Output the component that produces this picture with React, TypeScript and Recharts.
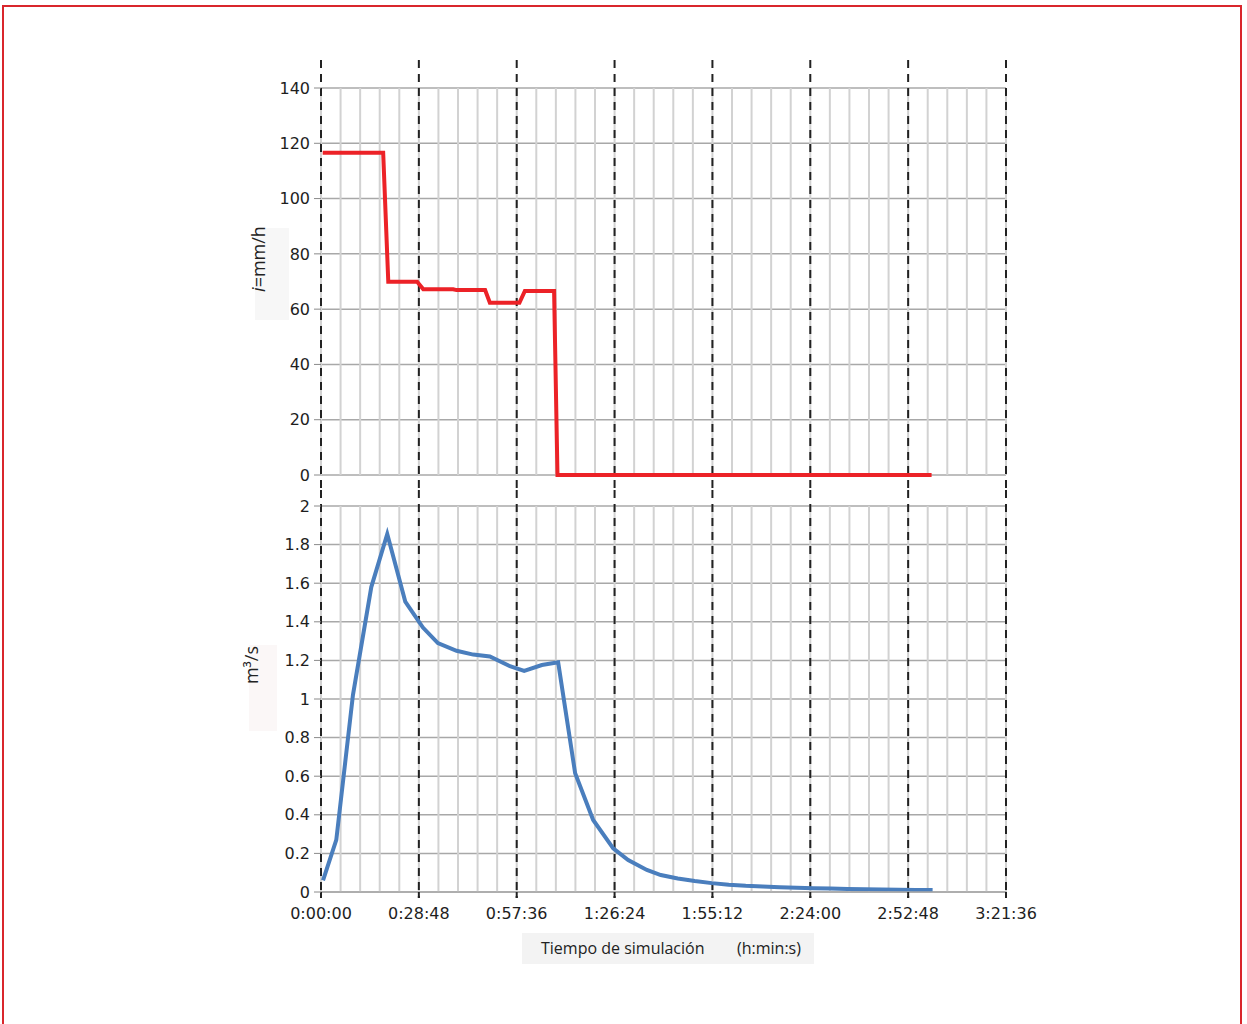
import { LineChart, Line, XAxis, YAxis, CartesianGrid, ReferenceLine } from 'recharts';

// time in minutes
const rainTimes = [0.5, 18.3, 19.8, 28.3, 30.1, 38.9, 39.9, 48.3, 49.7, 58.4, 60, 68.6, 69.6, 179.7];
const rainValues = [116.6, 116.6, 69.9, 69.9, 67.2, 67.2, 66.9, 66.9, 62.3, 62.3, 66.6, 66.6, 0, 0];

const flowTimes = [
  0.6, 4.5, 9.4, 14.8, 19.5, 24.8, 30, 34.4, 39.9, 44.8, 49.7, 55.6, 59.8, 65, 69.8, 74.8, 80.1, 86,
  90.4, 95.9, 100, 105, 110, 115, 120, 125, 130, 135, 140, 145, 150, 155, 160, 165, 170, 175, 180,
];
const flowValues = [
  0.06, 0.27, 1.02, 1.58, 1.855, 1.505, 1.37, 1.29, 1.25, 1.23, 1.22, 1.17, 1.146, 1.176, 1.19, 0.615,
  0.373, 0.226, 0.166, 0.114, 0.088, 0.07, 0.057, 0.046, 0.038, 0.032, 0.028, 0.025, 0.022, 0.02, 0.018,
  0.016, 0.014, 0.013, 0.012, 0.011, 0.01,
];

const majorTicks = [0, 28.8, 57.6, 86.4, 115.2, 144, 172.8, 201.6];
const minorTicks = Array.from({ length: 36 }, (_, i) => +(i * 5.76).toFixed(2));
const rainTicks = [0, 20, 40, 60, 80, 100, 120, 140];
const flowTicks = [0, 0.2, 0.4, 0.6, 0.8, 1, 1.2, 1.4, 1.6, 1.8, 2];

const rainData = rainTimes.map((t, i) => ({ t, v: rainValues[i] }));
const flowData = flowTimes.map((t, i) => ({ t, v: flowValues[i] }));

const fmtTime = (m: number) => {
  const s = Math.round(m * 60);
  const h = Math.floor(s / 3600);
  const mm = Math.floor((s % 3600) / 60);
  const ss = s % 60;
  return `${h}:${String(mm).padStart(2, '0')}:${String(ss).padStart(2, '0')}`;
};

const tickStyle = { fontSize: 16, fill: '#1e1e1e', fontFamily: 'DejaVu Sans' };

const dashedShape = (top: number, bottom: number) => (p: any) => (
  <line x1={p.x1} x2={p.x2} y1={top} y2={bottom} stroke="#222" strokeWidth={2} strokeDasharray="8 6" />
);

const minorLines = () =>
  minorTicks.map((m) => (
    <ReferenceLine key={`m${m}`} x={m} stroke="#d2d2d2" strokeWidth={2} ifOverflow="visible" />
  ));

export default function App() {
  return (
    <div style={{ position: 'absolute', left: 0, top: 0, width: 1247, height: 1024, background: '#fff', overflow: 'hidden' }}>
      <div
        style={{
          position: 'absolute',
          left: 2,
          top: 5,
          width: 1240,
          height: 1040,
          border: '2px solid #d9262c',
          boxSizing: 'border-box',
        }}
      />
      <div style={{ position: 'absolute', left: 0, top: 0 }}>
        <LineChart width={1247} height={490} data={rainData} margin={{ top: 88, right: 241, left: 261, bottom: 15 }}>
          <XAxis dataKey="t" type="number" domain={[0, 201.6]} ticks={majorTicks} hide />
          <YAxis
            width={60}
            domain={[0, 140]}
            ticks={rainTicks}
            tick={tickStyle}
            tickSize={7}
            tickMargin={4}
            axisLine={false}
            tickLine={{ stroke: '#8a8a8a' }}
          />
          {minorLines()}
          <CartesianGrid vertical={false} stroke="#a8a8a8" strokeWidth={1.5} />
          {majorTicks.map((m) => (
            <ReferenceLine key={`d${m}`} x={m} shape={dashedShape(60, 490)} />
          ))}
          <Line dataKey="v" type="linear" stroke="#ec2227" strokeWidth={4} dot={false} isAnimationActive={false} />
        </LineChart>
      </div>
      <div style={{ position: 'absolute', left: 0, top: 490 }}>
        <LineChart width={1247} height={534} data={flowData} margin={{ top: 16, right: 241, left: 261, bottom: 102 }}>
          <XAxis
            dataKey="t"
            type="number"
            domain={[0, 201.6]}
            ticks={majorTicks}
            tickFormatter={fmtTime}
            tick={tickStyle}
            height={30}
            tickSize={6}
            tickMargin={10}
            axisLine={{ stroke: '#a8a8a8', strokeWidth: 1.5 }}
            tickLine={{ stroke: '#222', strokeWidth: 2 }}
          />
          <YAxis
            width={60}
            domain={[0, 2]}
            ticks={flowTicks}
            tick={tickStyle}
            tickSize={7}
            tickMargin={4}
            axisLine={false}
            tickLine={{ stroke: '#8a8a8a' }}
          />
          {minorLines()}
          <CartesianGrid vertical={false} stroke="#a8a8a8" strokeWidth={1.5} />
          {majorTicks.map((m) => (
            <ReferenceLine key={`d${m}`} x={m} shape={dashedShape(0, 408)} />
          ))}
          <Line dataKey="v" type="linear" stroke="#4a7ebd" strokeWidth={4} dot={false} isAnimationActive={false} />
        </LineChart>
      </div>

      {/* y-axis titles */}
      <div style={{ position: 'absolute', left: 255, top: 228, width: 34, height: 92, background: '#f7f7f7' }} />
      <div
        style={{
          position: 'absolute',
          left: 258,
          top: 259,
          transform: 'translate(-50%, -50%) rotate(-90deg)',
          whiteSpace: 'nowrap',
          fontFamily: 'Open Sans',
          fontSize: 18,
          color: '#222',
        }}
      >
        <i>i</i>=mm/h
      </div>
      <div style={{ position: 'absolute', left: 249, top: 645, width: 28, height: 86, background: '#fbf7f7' }} />
      <div
        style={{
          position: 'absolute',
          left: 251,
          top: 665,
          transform: 'translate(-50%, -50%) rotate(-90deg)',
          whiteSpace: 'nowrap',
          fontFamily: 'Open Sans',
          fontSize: 18,
          color: '#222',
        }}
      >
        m³/s
      </div>

      {/* x-axis title */}
      <div style={{ position: 'absolute', left: 522, top: 933, width: 292, height: 31, background: '#f3f3f3' }} />
      <div
        style={{
          position: 'absolute',
          left: 541,
          top: 937,
          fontFamily: 'Open Sans',
          fontSize: 16,
          color: '#222',
          whiteSpace: 'nowrap',
        }}
      >
        Tiempo de simulación
      </div>
      <div
        style={{
          position: 'absolute',
          left: 737,
          top: 937,
          fontFamily: 'Open Sans',
          fontSize: 16,
          color: '#222',
          whiteSpace: 'nowrap',
        }}
      >
        (h:min:s)
      </div>
    </div>
  );
}
